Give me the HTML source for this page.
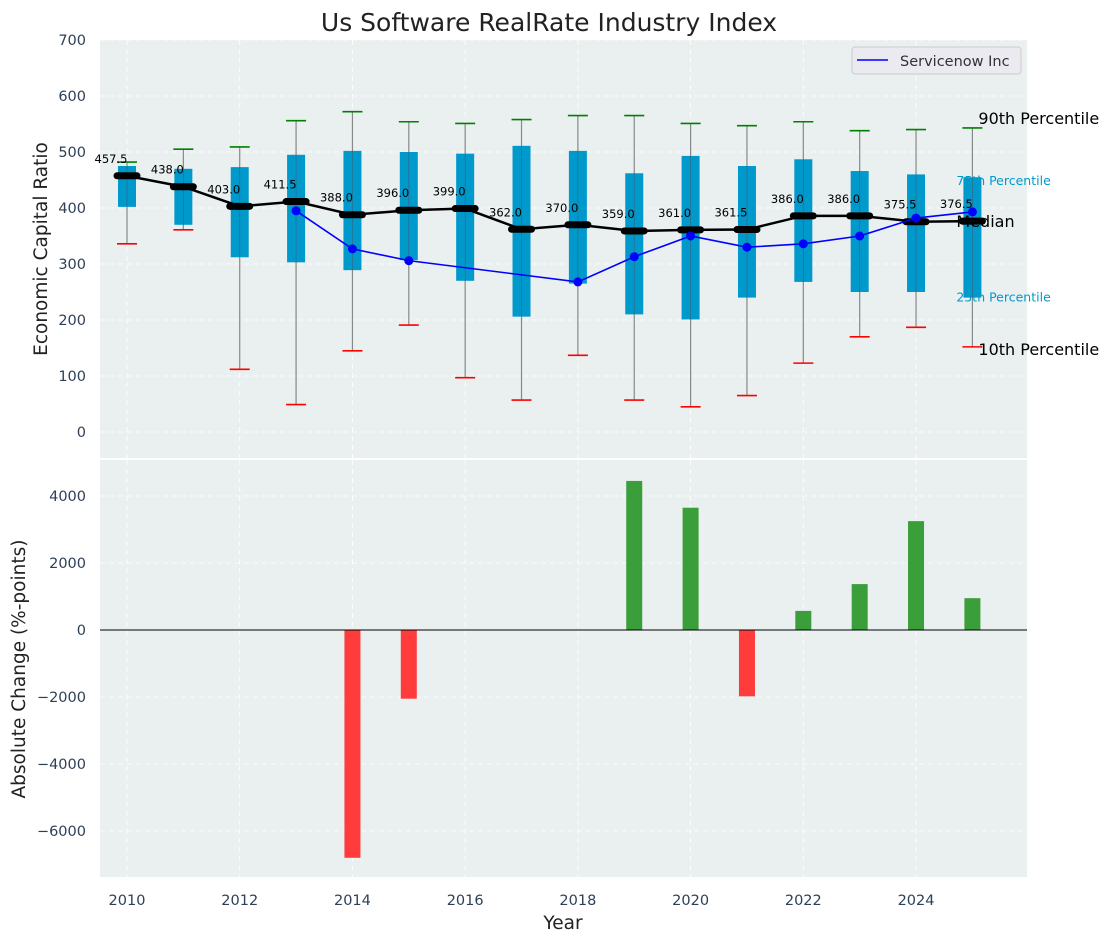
<!DOCTYPE html>
<html><head><meta charset="utf-8"><style>
body{margin:0;background:#fff;}
svg{display:block;font-family:"DejaVu Sans","Liberation Sans",sans-serif;}
</style></head><body>
<svg id="c" width="1114" height="942"></svg>
<script>
const years=[2010,2011,2012,2013,2014,2015,2016,2017,2018,2019,2020,2021,2022,2023,2024,2025];
const p90=[482,505,509,556,572,554,551,558,565,565,551,547,554,538,540,543];
const p75=[475,470,473,495,502,500,497,511,502,462,493,475,487,466,460,455];
const median=[457.5,438,403,411.5,388,396,399,362,370,359,361,361.5,386,386,375.5,376.5];
const p25=[402,370,312,303,289,307,270,206,265,210,201,240,268,250,250,240];
const p10=[336,361,112,49,145,191,97,57,137,57,45,65,123,170,187,152];
const servicenow=[null,null,null,395,327,306,null,null,268,313,350,330,336,350,382,393];
const change=[0,0,0,0,-6800,-2050,0,0,0,4450,3650,-1980,570,1370,3250,950];
const topTicks=[0,100,200,300,400,500,600,700];
const botTicks=[-6000,-4000,-2000,0,2000,4000];
const xTicks=[2010,2012,2014,2016,2018,2020,2022,2024];

const NS="http://www.w3.org/2000/svg";
const svg=document.getElementById('c');
function el(t,a,p){const e=document.createElementNS(NS,t);for(const k in a)e.setAttribute(k,a[k]);(p||svg).appendChild(e);return e;}
const L=100,R=1027;
const x=v=>127+(v-2010)*56.36;
const yT=v=>432-v*0.56;
const yB=v=>630-v*0.0335;
const fmt=v=>String(v).replace('-','\u2212');

let e=el('rect',{x:L,y:40,width:R-L,height:418,fill:'#eaeff0'});

e=el('rect',{x:L,y:460,width:R-L,height:417,fill:'#eaeff0'});


for(const t of topTicks){el('line',{x1:L,x2:R,y1:yT(t),y2:yT(t),stroke:'#fff','stroke-dasharray':'5,4','stroke-width':0.8});
 e=el('text',{x:86,y:yT(t)+5,'text-anchor':'end','font-size':14.5,fill:'#2e4057'});e.textContent=fmt(t);
 }
for(const t of botTicks){el('line',{x1:L,x2:R,y1:yB(t),y2:yB(t),stroke:'#fff','stroke-dasharray':'5,4','stroke-width':0.8});
 e=el('text',{x:86,y:yB(t)+5,'text-anchor':'end','font-size':14.5,fill:'#2e4057'});e.textContent=fmt(t);
 }
for(const t of xTicks){el('line',{x1:x(t),x2:x(t),y1:40,y2:458,stroke:'#fff','stroke-dasharray':'5,4','stroke-width':0.8});
 el('line',{x1:x(t),x2:x(t),y1:460,y2:877,stroke:'#fff','stroke-dasharray':'5,4','stroke-width':0.8});
 e=el('text',{x:x(t),y:905,'text-anchor':'middle','font-size':14.5,fill:'#2e4057'});e.textContent=t;
 }

years.forEach((yr,i)=>{
 const cx=x(yr);
 e=el('line',{x1:cx,x2:cx,y1:yT(p10[i]),y2:yT(p90[i]),stroke:'#888','stroke-width':1.2});
 
 e=el('rect',{x:cx-9,y:yT(p75[i]),width:18,height:yT(p25[i])-yT(p75[i]),fill:'#0099cc'});
 
 el('line',{x1:cx,x2:cx,y1:yT(p75[i]),y2:yT(p25[i]),stroke:'#456',"stroke-width":0.8,opacity:0.6});
 e=el('line',{x1:cx-10,x2:cx+10,y1:yT(p90[i]),y2:yT(p90[i]),stroke:'green','stroke-width':1.6});
 
 e=el('line',{x1:cx-10,x2:cx+10,y1:yT(p10[i]),y2:yT(p10[i]),stroke:'red','stroke-width':1.6});
 
});
e=el('polyline',{points:years.map((yr,i)=>x(yr)+','+yT(median[i])).join(' '),fill:'none',stroke:'#000','stroke-width':2.5});

years.forEach((yr,i)=>{
 e=el('line',{x1:x(yr)-10,x2:x(yr)+10,y1:yT(median[i]),y2:yT(median[i]),stroke:'#000','stroke-width':7,'stroke-linecap':'round'});
 
});
let seg=[];
years.forEach((yr,i)=>{if(servicenow[i]!=null)seg.push(x(yr)+','+yT(servicenow[i]));});
e=el('polyline',{points:seg.join(' '),fill:'none',stroke:'blue','stroke-width':1.6});

years.forEach((yr,i)=>{if(servicenow[i]!=null){
 e=el('circle',{cx:x(yr),cy:yT(servicenow[i]),r:4.5,fill:'blue'});
 }});
years.forEach((yr,i)=>{
 e=el('text',{x:x(yr)-16,y:yT(median[i])-13,'text-anchor':'middle','font-size':11.5,fill:'#000'});
 e.textContent=median[i].toFixed(1);
 
});
const lx=x(2025);
[['90th Percentile',yT(p90[15])-4,16,'#000',lx+6],['75th Percentile',yT(p75[15])+8,12.5,'#0099cc',lx-16],
 ['Median',yT(median[15])+6,16,'#000',lx-16],['25th Percentile',yT(p25[15])+4,12.5,'#0099cc',lx-16],
 ['10th Percentile',yT(p10[15])+8,16,'#000',lx+6]].forEach(a=>{
 e=el('text',{x:a[4],y:a[1],'font-size':a[2],fill:a[3]});e.textContent=a[0];
 });

years.forEach((yr,i)=>{const v=change[i];if(!v)return;
 const y0=yB(0),y1=yB(v);
 e=el('rect',{x:x(yr)-8,y:Math.min(y0,y1),width:16,height:Math.abs(y1-y0),fill:v>0?'#3a9e3a':'#ff3b3b'});
 });
e=el('line',{x1:L,x2:R,y1:yB(0),y2:yB(0),stroke:'#000','stroke-width':1});


const lg=el('g',{});
el('rect',{x:852,y:47,width:169,height:27,rx:3,fill:'#eaeaf0',stroke:'#ccc'},lg);
el('line',{x1:857,x2:888,y1:60,y2:60,stroke:'blue','stroke-width':1.6},lg);
e=el('text',{x:900,y:66,'font-size':14.5,fill:'#333'},lg);e.textContent='Servicenow Inc';

e=el('text',{x:549,y:31,'text-anchor':'middle','font-size':25,fill:'#222'});e.textContent='Us Software RealRate Industry Index';

e=el('text',{x:563,y:929,'text-anchor':'middle','font-size':18.5,fill:'#222'});e.textContent='Year';

e=el('text',{x:47,y:249,'text-anchor':'middle','font-size':18.5,fill:'#222',transform:'rotate(-90 47 249)'});e.textContent='Economic Capital Ratio';

e=el('text',{x:25,y:669,'text-anchor':'middle','font-size':18.5,fill:'#222',transform:'rotate(-90 25 669)'});e.textContent='Absolute Change (%-points)';

</script>
</body></html>
